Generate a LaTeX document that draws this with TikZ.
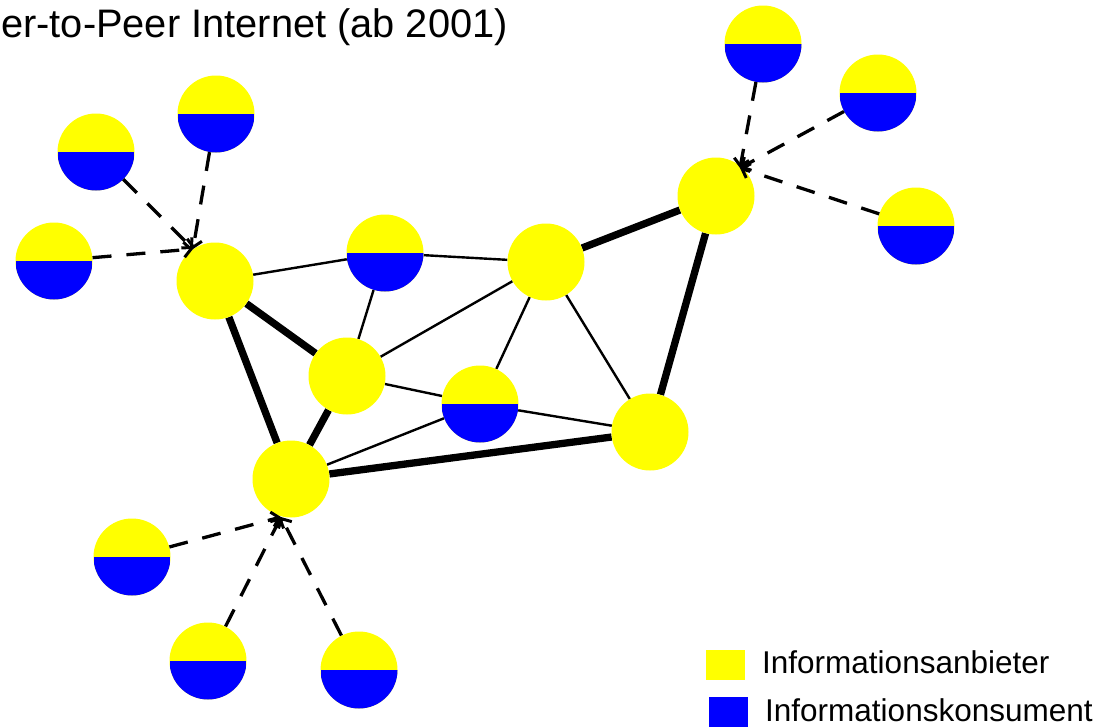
\documentclass[tikz,border=0pt]{standalone}
\usepackage{fontspec}
\setmainfont{Liberation Sans}
\usetikzlibrary{arrows.meta,backgrounds}
\definecolor{pyellow}{RGB}{255,255,0}
\definecolor{pblue}{RGB}{0,0,255}
\tikzset{
  peer/.style={circle,fill=pyellow,minimum size=77pt,inner sep=0pt},
  mixpeer/.style={peer,path picture={\fill[pblue] (path picture bounding box.west) rectangle (path picture bounding box.south east);}},
  thinlink/.style={line width=2.4pt},
  thicklink/.style={line width=7.3pt},
  request/.style={line width=3.3pt,dash pattern=on 19pt off 15pt,-{Straight Barb[length=7pt,width=15pt,line width=3pt]}},
  legendbox/.style={minimum width=39pt,minimum height=30pt,inner sep=0pt},
  legendtext/.style={anchor=base west,inner sep=0pt,font=\fontsize{31.5}{32}\selectfont}
}
\begin{document}
\begin{tikzpicture}[x=1pt,y=-1pt]
\useasboundingbox (0,0) rectangle (1104,728);
% title
\node[anchor=base west,inner sep=0pt,font=\fontsize{39.8}{40}\selectfont] (title) at (1,37) {er-to-Peer Internet (ab 2001)};
% core nodes
\node[peer] (H1) at (215,281) {};
\node[mixpeer] (M1) at (385,253) {};
\node[peer] (H2) at (546,262) {};
\node[peer] (H3) at (716,196) {};
\node[peer] (H4) at (347,376) {};
\node[mixpeer] (M2) at (480,404) {};
\node[peer] (H5) at (650,432) {};
\node[peer] (H6) at (291,479) {};
% satellites
\node[mixpeer] (S1) at (96,152) {};
\node[mixpeer] (S2) at (216,114) {};
\node[mixpeer] (S3) at (54,261) {};
\node[mixpeer] (T1) at (763,44) {};
\node[mixpeer] (T2) at (878,93) {};
\node[mixpeer] (T3) at (916,226) {};
\node[mixpeer] (B1) at (132,557) {};
\node[mixpeer] (B2) at (208,661) {};
\node[mixpeer] (B3) at (359,670) {};
% links
\begin{pgfonlayer}{background}
\draw[thinlink] (H1) -- (M1);
\draw[thinlink] (M1) -- (H2);
\draw[thinlink] (M1) -- (H4);
\draw[thinlink] (H4) -- (H2);
\draw[thinlink] (H4) -- (M2);
\draw[thinlink] (M2) -- (H2);
\draw[thinlink] (H2) -- (H5);
\draw[thinlink] (M2) -- (H5);
\draw[thinlink] (H6) -- (M2);
\draw[thicklink] (H1) -- (H4);
\draw[thicklink] (H1) -- (H6);
\draw[thicklink] (H4) -- (H6);
\draw[thicklink] (H6) -- (H5);
\draw[thicklink] (H2) -- (H3);
\draw[thicklink] (H3) -- (H5);
\end{pgfonlayer}
% request arrows
\coordinate (tipH1) at (193,249);
\coordinate (tipH3) at (740,168);
\coordinate (tipH6) at (281,517);
\draw[request] (S1) -- (tipH1);
\draw[request] (S2) -- (tipH1);
\draw[request] (S3) -- (tipH1);
\draw[request] (T1) -- (tipH3);
\draw[request] (T2) -- (tipH3);
\draw[request] (T3) -- (tipH3);
\draw[request] (B1) -- (tipH6);
\draw[request] (B2) -- (tipH6);
\draw[request] (B3) -- (tipH6);
% legend
\node[legendbox,fill=pyellow] (LY) at (725.5,665) {};
\node[legendbox,fill=pblue] (LB) at (728.5,712) {};
\node[legendtext] (LYt) at (762,673) {Informationsanbieter};
\node[legendtext] (LBt) at (765,721) {Informationskonsument};
\end{tikzpicture}
\end{document}
